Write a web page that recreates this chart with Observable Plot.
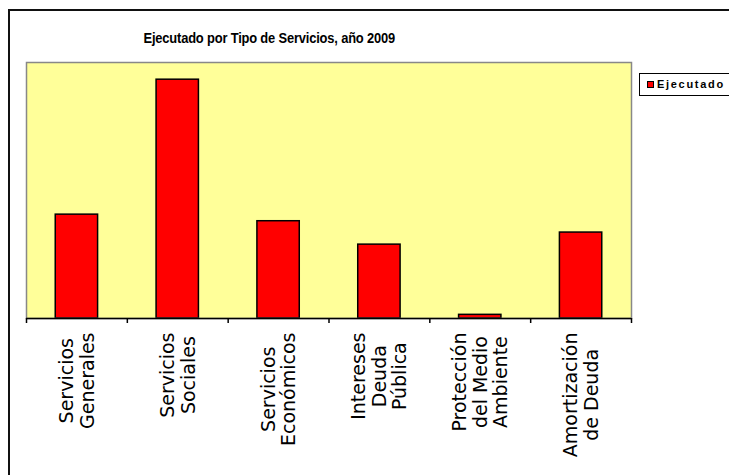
<!DOCTYPE html>
<html>
<head>
<meta charset="utf-8">
<script src="https://cdn.jsdelivr.net/npm/d3@7"></script>
<script src="https://cdn.jsdelivr.net/npm/@observablehq/plot@0.6"></script>
<style>
  html, body { margin: 0; padding: 0; background: #fff; }
  #wrap { position: relative; width: 729px; height: 475px; overflow: hidden; }
  #outer { position: absolute; left: 8px; top: 9px; width: 740px; height: 490px; border: 2px solid #111; box-sizing: border-box; }
  #title { position: absolute; left: 0; width: 538px; top: 29px; text-align: center; }
  #title span { display: inline-block; transform: scaleX(0.86); transform-origin: center;
           font: bold 15px "Liberation Sans", Arial, sans-serif; line-height: 15px; letter-spacing: -0.2px; color: #000; white-space: nowrap; }
  #legend { position: absolute; left: 639px; top: 73px; width: 110px; height: 23px; border: 1px solid #000; box-sizing: border-box; background: #fff; }
  #legend .sw { position: absolute; left: 7px; top: 7px; width: 7px; height: 7px; background: #ff0000; border: 1px solid #000; box-sizing: border-box; }
  #legend .lb { position: absolute; left: 17px; top: 5px; font: bold 11px "Liberation Sans", Arial, sans-serif; line-height: 11px; letter-spacing: 1.7px; color: #000; }
  #chart { position: absolute; left: 0; top: 0; }
</style>
</head>
<body>
<div id="wrap">
  <div id="outer"></div>
  <div id="title"><span>Ejecutado por Tipo de Servicios, año 2009</span></div>
  <div id="chart"></div>
  <div id="legend"><div class="sw"></div><div class="lb">Ejecutado</div></div>
</div>
<script>
const categories = ["Servicios\nGenerales", "Servicios\nSociales", "Servicios\nEconómicos", "Intereses\nDeuda\nPública", "Protección\ndel Medio\nAmbiente", "Amortización\nde Deuda"];
const values = [1420, 3265, 1330, 1010, 50, 1175];
const seriesName = "Ejecutado";
const yMax = 3500;

const data = categories.map((c, i) => ({category: c, value: values[i]}));

const W = 729, H = 475;
const mL = 26, mR = 98, mT = 62, mB = 157;
const frameH = H - mT - mB;
const step = (W - mL - mR) / categories.length;
const tickLen = yMax * 5 / frameH;

const ctx = document.createElement("canvas").getContext("2d");
ctx.font = "19px 'DejaVu Sans'";
const labelMarks = categories.map(c => {
  const w = Math.max(...c.split("\n").map(s => ctx.measureText(s).width));
  return Plot.text([c], {
    x: d => d, y: () => 0, text: d => d,
    rotate: -90, textAnchor: "middle", lineAnchor: "middle", lineHeight: 1.08,
    fontSize: 19, fontFamily: "DejaVu Sans", fill: "#000",
    dy: 14 + w / 2
  });
});

const chart = Plot.plot({
  width: W, height: H,
  marginLeft: mL, marginRight: mR, marginTop: mT, marginBottom: mB,
  style: {background: "transparent", overflow: "visible"},
  x: {domain: categories, paddingInner: 0.58, paddingOuter: 0.29, round: false, axis: null},
  y: {domain: [0, yMax], axis: null},
  marks: [
    Plot.frame({fill: "#FFFF99"}),
    Plot.barY(data, {x: "category", y: "value", fill: "#FF0000", stroke: "#000", strokeWidth: 1.5}),
    Plot.frame({stroke: "#888", strokeWidth: 1.5}),
    Plot.ruleY([0], {stroke: "#000", strokeWidth: 1.5}),
    Plot.ruleX(categories, {x: d => d, dx: -step / 2, y1: 0, y2: -tickLen, stroke: "#000", strokeWidth: 1.5}),
    Plot.ruleX([categories[categories.length - 1]], {x: d => d, dx: step / 2, y1: 0, y2: -tickLen, stroke: "#000", strokeWidth: 1.5}),
    ...labelMarks
  ]
});
document.getElementById("chart").appendChild(chart);
</script>
</body>
</html>
